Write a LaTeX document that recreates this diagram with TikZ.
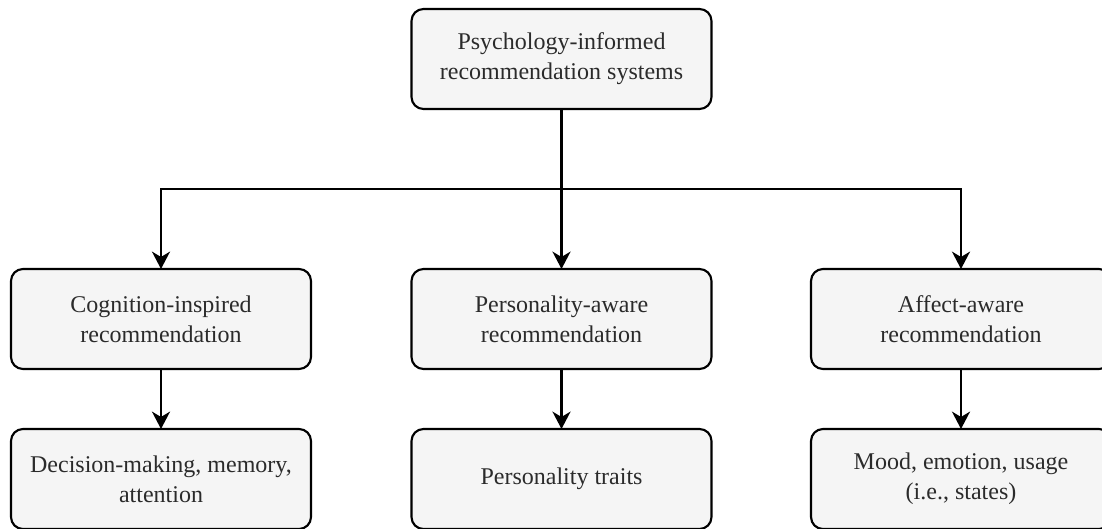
\documentclass[tikz,border=0pt]{standalone}
\usepackage{fontspec}
\setmainfont{Liberation Serif}
\usetikzlibrary{arrows.meta}
\definecolor{boxfill}{HTML}{F5F5F5}
\definecolor{boxtext}{HTML}{2B2B2B}
\tikzset{
  card/.style={draw=black, line width=1.6pt, fill=boxfill, rounded corners=9pt,
    minimum width=225pt, minimum height=75pt, inner sep=0pt, outer sep=0pt,
    align=center, text=boxtext, font=\fontsize{18}{22.5}\selectfont},
  link/.style={draw=black, line width=2pt,
    -{Stealth[length=13pt, width=13.5pt, inset=4pt]}}
}
\begin{document}
\begin{tikzpicture}[x=0.75pt, y=-0.75pt]
  \useasboundingbox (0,0) rectangle (1102,528);
  % root
  \node[card] (root) at (561.5,59) {Psychology-informed\\recommendation systems};
  % second level
  \node[card] (cog) at (161,319) {Cognition-inspired\\recommendation};
  \node[card] (per) at (561.5,319) {Personality-aware\\recommendation};
  \node[card] (aff) at (961,319) {Affect-aware\\recommendation};
  % third level
  \node[card] (cogd) at (161,479) {Decision-making, memory,\\attention};
  \node[card] (perd) at (561.5,479) {Personality traits};
  \node[card] (affd) at (961,479) {Mood, emotion, usage\\(i.e., states)};
  % branching point of the tree
  \coordinate (split) at (561.5,189);
  \draw[line width=2pt] (root.south) -- (split);
  \draw[link] (split) -| (cog.north);
  \draw[link] (split) -- (per.north);
  \draw[link] (split) -| (aff.north);
  \draw[link] (cog.south) -- (cogd.north);
  \draw[link] (per.south) -- (perd.north);
  \draw[link] (aff.south) -- (affd.north);
\end{tikzpicture}
\end{document}
